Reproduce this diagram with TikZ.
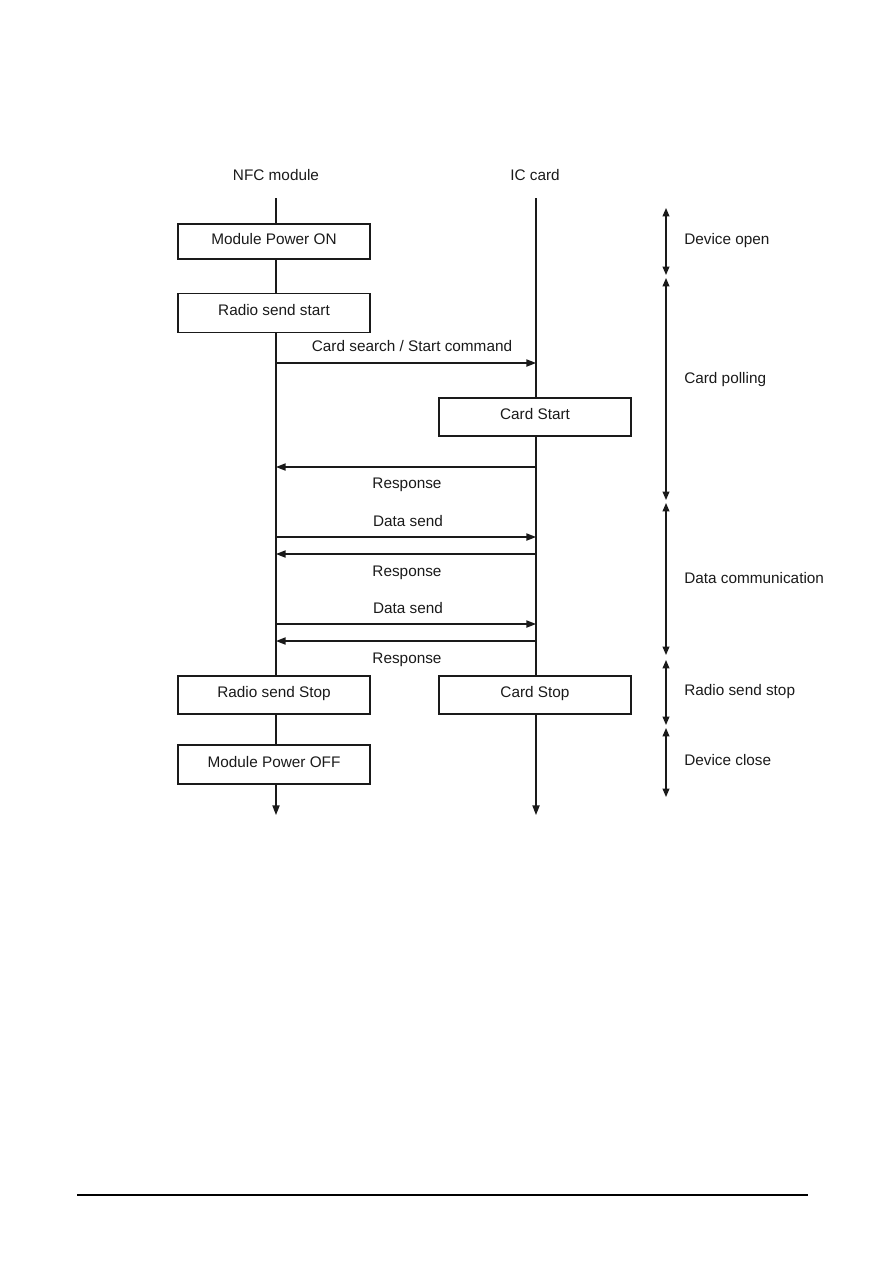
\documentclass[tikz,border=0pt]{standalone}
\usepackage{fontspec}
\setmainfont{Liberation Sans}
\usetikzlibrary{arrows.meta,positioning}
\definecolor{SeqInk}{HTML}{1A1A1A}
\definecolor{SeqRule}{HTML}{000000}

\begin{document}
\begin{tikzpicture}[x=0.025cm,y=-0.025cm,
    txt/.style={font=\fontsize{10.9}{13}\selectfont,text=SeqInk,inner sep=0pt,text height=0.9em,text depth=0.1em},
    stepbox/.style={txt,text depth=0.5em,draw=SeqInk,line width=0.9pt,fill=white,minimum width=4.8cm,minimum height=0.95cm},
    life/.style={SeqInk,line width=0.9pt},
    msg/.style={-{Triangle[length=2.4mm,width=1.8mm]},SeqInk,line width=0.9pt},
    phase/.style={{Triangle[length=2.1mm,width=1.7mm]}-{Triangle[length=2.1mm,width=1.7mm]},SeqInk,line width=0.9pt}
  ]
    \useasboundingbox (0,0) rectangle (893,1263);

    % lifeline heads
    \node[txt] (nfc) at (276,175) {NFC module};
    \node[txt] (ic) at (535,175) {IC card};
    \coordinate (nfcTop) at (276,198);
    \coordinate (icTop) at (536,198);
    \coordinate (nfcEnd) at (276,815);
    \coordinate (icEnd) at (536,815);

    % steps
    \node[stepbox,minimum height=0.875cm] (pon) at (274,241.5) {Module Power ON};
    \node[stepbox,minimum height=0.975cm] (rss) at (274,313) {Radio send start};
    \node[stepbox] (cst) at (535,417) {Card Start};
    \node[stepbox] (rsp) at (274,695) {Radio send Stop};
    \node[stepbox] (cdp) at (535,695) {Card Stop};
    \node[stepbox,minimum height=0.975cm] (poff) at (274,764.5) {Module Power OFF};

    \draw[life] (nfcTop) -- (nfcTop |- pon.north);
    \draw[life] (nfcTop |- pon.south) -- (nfcTop |- rss.north);
    \draw[life] (nfcTop |- rss.south) -- (nfcTop |- rsp.north);
    \draw[life] (nfcTop |- rsp.south) -- (nfcTop |- poff.north);
    \draw[msg] (nfcTop |- poff.south) -- (nfcEnd);
    \draw[life] (icTop) -- (icTop |- cst.north);
    \draw[life] (icTop |- cst.south) -- (icTop |- cdp.north);
    \draw[msg] (icTop |- cdp.south) -- (icEnd);

    % messages
    \foreach \n/\y in {cs/363,r1/467,d1/537,r2/554,d2/624,r3/641}{
      \coordinate (L\n) at (276,\y);
      \coordinate (R\n) at (536,\y);
    }
    \draw[msg] (Lcs) -- (Rcs);
    \draw[msg] (Rr1) -- (Lr1);
    \draw[msg] (Ld1) -- (Rd1);
    \draw[msg] (Rr2) -- (Lr2);
    \draw[msg] (Ld2) -- (Rd2);
    \draw[msg] (Rr3) -- (Lr3);
    \node[txt] (lcs) at (412,346) {Card search / Start command};
    \node[txt] (lr1) at (407,483) {Response};
    \node[txt] (ld1) at (408,521) {Data send};
    \node[txt] (lr2) at (407,571) {Response};
    \node[txt] (ld2) at (408,608) {Data send};
    \node[txt] (lr3) at (407,658) {Response};

    % phases
    \foreach \a/\b/\ly/\t [count=\i] in {208/275/239/Device open,278/500/378/Card polling,503/655/578/Data communication,660/725/690/Radio send stop,728/797/760/Device close}{
      \coordinate (ph\i a) at (666,\a);
      \coordinate (ph\i b) at (666,\b);
      \draw[phase] (ph\i a) -- (ph\i b);
      \node[txt,anchor=west] (phl\i) at (684,\ly) {\t};
    }

    % page rule
    \coordinate (footL) at (77,1195);
    \coordinate (footR) at (808,1195);
    \draw[SeqRule,line width=0.8pt] (footL) -- (footR);
  \end{tikzpicture}
\end{document}
